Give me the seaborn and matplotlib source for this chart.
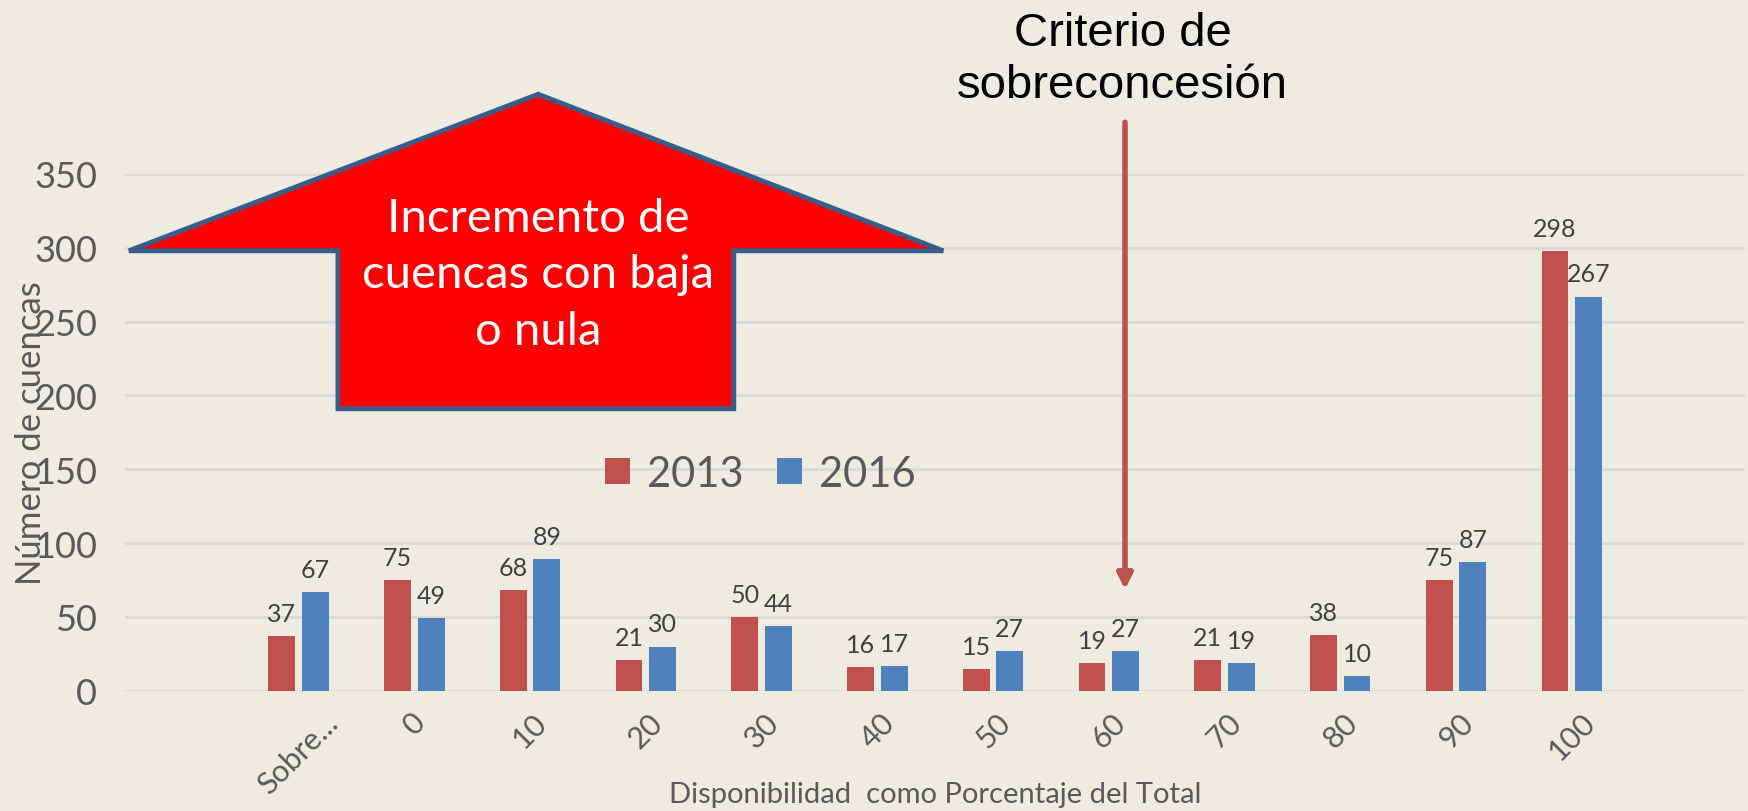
import pandas as pd
import matplotlib.pyplot as plt
from matplotlib.patches import Polygon
import seaborn as sns

# Datos del gráfico
categorias = ["Sobre...", "0", "10", "20", "30", "40", "50", "60", "70", "80", "90", "100"]
valores_2013 = [37, 75, 68, 21, 50, 16, 15, 19, 21, 38, 75, 298]
valores_2016 = [67, 49, 89, 30, 44, 17, 27, 27, 19, 10, 87, 267]
anios = ["2013", "2016"]
colores = ["#C0504D", "#4F81BD"]
ticks_y = [0, 50, 100, 150, 200, 250, 300, 350]

FONDO = "#EEECE1"
GRIS = "#595959"

sns.set_style("white")
plt.rcParams['font.family'] = ['Lato', 'DejaVu Sans']


# Tabla en formato largo para seaborn
def armar_tabla():
    t13 = pd.DataFrame({'categoria': categorias, 'anio': anios[0], 'cuencas': valores_2013})
    t16 = pd.DataFrame({'categoria': categorias, 'anio': anios[1], 'cuencas': valores_2016})
    return pd.concat([t13, t16], ignore_index=True)


def graficar(data):
    fig = plt.figure(figsize=(17.48, 8.12), dpi=100, facecolor=FONDO)
    ax = fig.add_axes([0.0715, 0.148, 0.927, 0.6365])
    ax.set_facecolor(FONDO)

    sns.barplot(data=data, x='categoria', y='cuencas', hue='anio', order=categorias,
                hue_order=anios, palette=colores, saturation=1, width=0.58, gap=0.2,
                errorbar=None, linewidth=0, ax=ax)

    for cont in ax.containers:
        ax.bar_label(cont, padding=8, fontsize=18, color='#404040')

    ax.set_xlim(-1.5, 12.5)
    ax.set_ylim(0, 350)
    ax.set_yticks(ticks_y)
    ax.yaxis.grid(True, color='#D9D9D9', lw=2)
    ax.set_axisbelow(True)
    sns.despine(ax=ax, left=True, bottom=True)

    ax.tick_params(axis='y', length=0, pad=20, labelsize=26, labelcolor=GRIS)
    ax.tick_params(axis='x', length=0, pad=12, labelsize=22, labelcolor=GRIS, rotation=45)

    ax.set_xlabel("Disponibilidad  como Porcentaje del Total", fontsize=21, color=GRIS, va='center')
    ax.xaxis.set_label_coords(0.5, -0.2)
    # la etiqueta del eje y se monta sobre los números, como en el original
    ax.set_ylabel("Número de cuencas", fontsize=25, color=GRIS, va='center')
    ax.yaxis.set_label_coords(-0.058, 0.50)

    handles, labels = ax.get_legend_handles_labels()
    ax.legend(handles, labels, loc='center', bbox_to_anchor=(0.392, 0.42), ncol=2,
              frameon=False, fontsize=30, labelcolor=GRIS, handlelength=0.6,
              handleheight=0.6, handletextpad=0.4, columnspacing=0.8)

    # Flecha grande con el texto
    flecha = Polygon([(2.07, 404), (5.57, 298), (3.76, 298), (3.76, 191),
                      (0.34, 191), (0.34, 298), (-1.466, 298)], closed=True,
                     facecolor='#FF0000', edgecolor='#385D8A', lw=3.5, clip_on=False, zorder=5)
    ax.add_patch(flecha)
    ax.text(2.07, 282, "Incremento de\ncuencas con baja\no nula", ha='center', va='center',
            color='white', fontsize=34, linespacing=1.42, zorder=6)

    # Criterio de sobreconcesión
    ax.text(7.12, 428, "Criterio de\nsobreconcesión", ha='center', va='center',
            fontsize=34, family=['Liberation Sans', 'DejaVu Sans'], color='black',
            linespacing=1.25)
    ax.annotate('', xy=(7.14, 68.6), xytext=(7.14, 385), annotation_clip=False,
                arrowprops=dict(arrowstyle='-|>,head_width=0.45,head_length=0.9',
                                lw=4, color='#C0504D', shrinkA=0, shrinkB=0))

    fig.savefig('out.png', dpi=100, facecolor=FONDO)


def main():
    data = armar_tabla()
    graficar(data)


if __name__ == "__main__":
    main()
